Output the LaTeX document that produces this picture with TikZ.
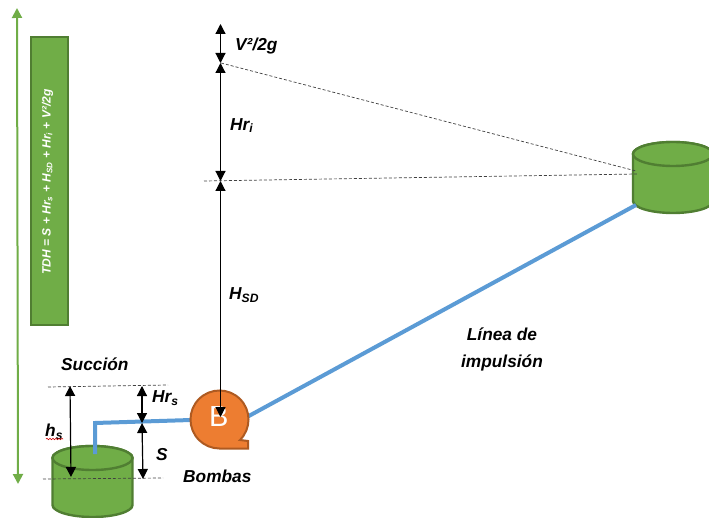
\documentclass[tikz,border=0pt]{standalone}
\usepackage{fontspec}
\setmainfont{Liberation Sans}
\usetikzlibrary{arrows.meta,decorations.pathmorphing}
\definecolor{tgreen}{HTML}{70AD47}
\definecolor{dgreen}{HTML}{507E32}
\definecolor{pipeb}{HTML}{5B9BD5}
\definecolor{porange}{HTML}{ED7D31}
\definecolor{dorange}{HTML}{AE5A21}
\tikzset{
 dim/.style={draw=black,line width=1.2pt,{Triangle[length=10pt,width=10pt]}-{Triangle[length=10pt,width=10pt]}},
 refl/.style={draw=black!75,line width=.7pt,dash pattern=on 3pt off 2pt},
 pipe/.style={draw=pipeb,line width=4pt},
 tank/.style={fill=tgreen,draw=dgreen,line width=2.4pt},
 lab/.style={font=\fontsize{17.3}{19}\selectfont\bfseries\itshape,text=black,inner sep=0pt},
 big/.style={draw=tgreen,line width=2pt,{Triangle[length=10pt,width=10pt]}-{Triangle[length=10pt,width=10pt]}}
}
\newcommand{\cyl}[4]{% cx, half-width, top centre y, bottom y
 \filldraw[tank] (#1-#2,#3) -- (#1-#2,#4-12) arc[start angle=180,end angle=0,x radius=#2,y radius=12] -- (#1+#2,#3) arc[start angle=0,end angle=-180,x radius=#2,y radius=12] -- cycle;
 \draw[tank] (#1,#3) ellipse[x radius=#2,y radius=12];
}
\begin{document}
\begin{tikzpicture}[x=1pt,y=-1pt]
\useasboundingbox (0,0) rectangle (709,518);
\clip (0,0) rectangle (709,518);
% named points
\coordinate (bigT) at (17,8);
\coordinate (bigB) at (18,484);
\coordinate (vT) at (220.5,24);
\coordinate (vM) at (220.5,63);
\coordinate (hriB) at (220.5,181);
\coordinate (hsdB) at (220.5,417);
\coordinate (e1) at (221,63);
\coordinate (e2) at (636,171);
\coordinate (f1) at (204,181);
\coordinate (f2) at (637,174);
\coordinate (sucL) at (48,387);
\coordinate (sucR) at (168,385);
\coordinate (watL) at (43,479);
\coordinate (watR) at (163,478);
\coordinate (hsT) at (70,386);
\coordinate (hsB) at (71,477);
\coordinate (hrT) at (142,386);
\coordinate (hrB) at (142,423);
\coordinate (sB) at (143,479);
\coordinate (pipeA) at (95,454);
\coordinate (pipeC) at (95,423);
\coordinate (pipeD) at (191,420);
\coordinate (pipeE) at (247,417);
\coordinate (pipeF) at (636,205);
% green bar and arrow
\draw[big] (bigT) -- (bigB);
\node[fill=tgreen,draw=dgreen,line width=2pt,minimum width=37pt,minimum height=288pt,inner sep=0pt] (bar) at (49,181.5) {};
\node[rotate=90,text=white,inner sep=0pt,font=\fontsize{12}{13}\selectfont\bfseries\itshape] (barl) at (47.5,182) {TDH = S + Hr\textsubscript{s} + H\textsubscript{SD} + Hr\textsubscript{i} + V²/2g};
% tanks
\cyl{673}{40}{154}{213}
\cyl{92.5}{40}{458}{517}
% dashed lines
\draw[refl] (e1) -- (e2);
\draw[refl] (f1) -- (f2);
\draw[refl] (sucL) -- (sucR);
\draw[refl] (watL) -- (watR);
% pipes
\draw[pipe] (pipeA) -- (pipeC) -- (pipeD);
\draw[pipe] (pipeE) -- (pipeF);
% pump
\filldraw[fill=porange,draw=dorange,line width=2pt,line join=miter] (219,448.5) -- (248,448.5) -- (248,441) -- (240,440) arc[start angle=45,end angle=-270,radius=29] -- cycle;
\node[text=white,inner sep=0pt,font=\fontsize{29}{30}\selectfont] (bl) at (218.7,417) {B};
% dimension arrows
\draw[dim] (vT) -- (vM);
\draw[dim] (vM) -- (hriB);
\draw[dim] (hriB) -- (hsdB);
\draw[dim] (hsT) -- (hsB);
\draw[dim] (hrT) -- (hrB);
\draw[dim] (hrB) -- (sB);
% labels
\node[lab,anchor=west] (l1) at (235,46.5) {V²/2g};
\node[lab,anchor=west] (l2) at (230,125.5) {Hr\textsubscript{i}};
\node[lab,anchor=west] (l3) at (229,295) {H\textsubscript{SD}};
\node[lab,anchor=west] (l4) at (61,364) {Succión};
\node[lab,anchor=west] (l5) at (152,398) {Hr\textsubscript{s}};
\node[lab,anchor=west] (l6) at (45,432) {h\textsubscript{s}};
\node[lab,anchor=west] (l7) at (156,455) {S};
\node[lab,anchor=west] (l8) at (183,476) {Bombas};
\node[lab] (l9) at (502,334) {Línea de};
\node[lab] (l10) at (502,363) {impulsión};
\draw[red!80!black,line width=.6pt,decorate,decoration={snake,amplitude=.7pt,segment length=3pt}] (46,439) -- (63,439);
\end{tikzpicture}
\end{document}
